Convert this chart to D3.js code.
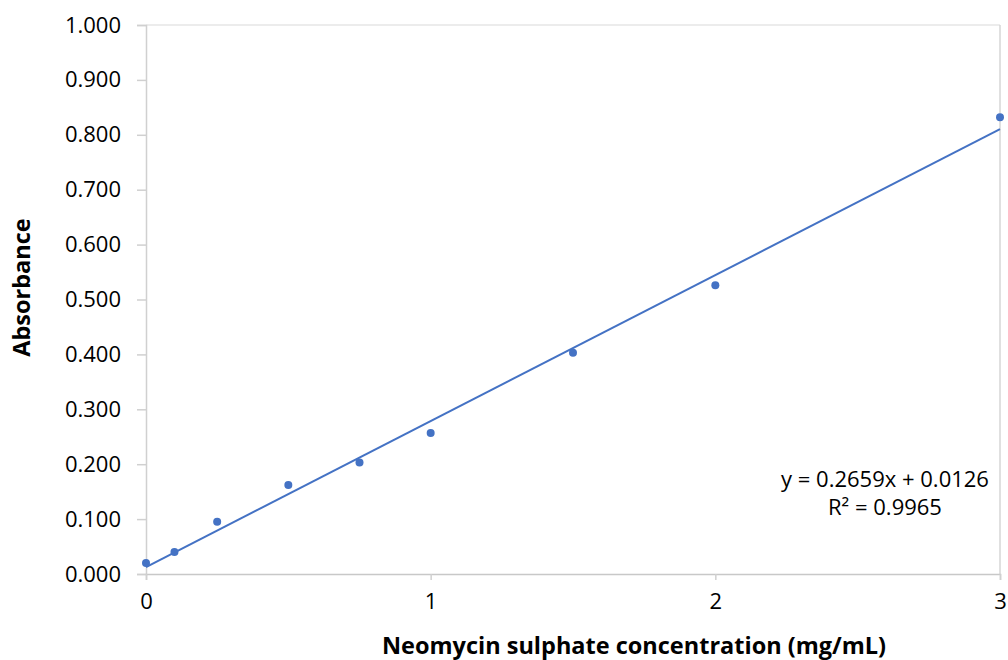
<!DOCTYPE html>
<html>
<head>
<meta charset="utf-8">
<script src="https://cdn.jsdelivr.net/npm/d3@7"></script>
<style>
  body { margin: 0; background: #fff; }
  text { font-family: "Open Sans", "Noto Sans", sans-serif; fill: #000; }
</style>
</head>
<body>
<div id="chart"></div>
<script>
const width = 1008;
const height = 660;
const margin = { left: 146, top: 25, right: 8, bottom: 86 };
const chartWidth = width - margin.left - margin.right;
const chartHeight = height - margin.top - margin.bottom;
const color = "#4472c4";

// data
const concentration = [0, 0.1, 0.25, 0.5, 0.75, 1, 1.5, 2, 3];
const absorbance = [0.020, 0.040, 0.095, 0.162, 0.203, 0.257, 0.403, 0.526, 0.832];
const xTicks = [0, 1, 2, 3];
const yTicks = [0, 0.1, 0.2, 0.3, 0.4, 0.5, 0.6, 0.7, 0.8, 0.9, 1.0];
const slope = 0.2659;
const intercept = 0.0126;
const equationLines = ["y = 0.2659x + 0.0126", "R² = 0.9965"];

let svg;
let xScale;
let yScale;

function createChart() {
  svg = d3
    .select("#chart")
    .append("svg")
    .attr("width", width)
    .attr("height", height)
    .append("g")
    .attr("transform", "translate(" + margin.left + "," + margin.top + ")");

  xScale = d3.scaleLinear().domain([0, 3]).range([0, chartWidth]);
  yScale = d3.scaleLinear().domain([0, 1]).range([chartHeight, 0]);

  createFrame();
  createAxes();
  createTrendline();
  createDots();
  createLabels();
}

function createFrame() {
  svg
    .append("line")
    .attr("x1", 0)
    .attr("x2", chartWidth)
    .attr("y1", 0)
    .attr("y2", 0)
    .attr("stroke", "#e6e6e6")
    .attr("stroke-width", 1.5);
  svg
    .append("line")
    .attr("x1", chartWidth)
    .attr("x2", chartWidth)
    .attr("y1", 0)
    .attr("y2", chartHeight)
    .attr("stroke", "#d6d6d6")
    .attr("stroke-width", 1.5);
}

function createAxes() {
  const yAxis = svg
    .append("g")
    .call(
      d3
        .axisLeft(yScale)
        .tickValues(yTicks)
        .tickSize(9)
        .tickPadding(16)
        .tickFormat(d3.format(".3f"))
    );
  yAxis.select(".domain").attr("stroke", "#d0d0d0").attr("stroke-width", 1.5);
  yAxis.selectAll(".tick line").attr("stroke", "#d0d0d0").attr("stroke-width", 1.5);
  yAxis.selectAll("text").style("font-size", "22px").attr("fill", "#000");

  const xAxis = svg
    .append("g")
    .attr("transform", "translate(0," + chartHeight + ")")
    .call(
      d3
        .axisBottom(xScale)
        .tickValues(xTicks)
        .tickSize(6)
        .tickPadding(13)
        .tickFormat(d3.format("d"))
    );
  xAxis.select(".domain").attr("stroke", "#c8c8c8").attr("stroke-width", 1.5);
  xAxis.selectAll(".tick line").attr("stroke", "#d0d0d0").attr("stroke-width", 1.5);
  xAxis.selectAll("text").style("font-size", "22px").attr("fill", "#000");
}

function createTrendline() {
  const ends = d3.extent(concentration);
  svg
    .append("path")
    .datum(ends)
    .attr("fill", "none")
    .attr("stroke", color)
    .attr("stroke-width", 2)
    .attr(
      "d",
      d3
        .line()
        .x((d) => xScale(d))
        .y((d) => yScale(slope * d + intercept))
    );
}

function createDots() {
  svg
    .selectAll(".dot")
    .data(concentration)
    .enter()
    .append("circle")
    .classed("dot", true)
    .attr("cx", (d) => xScale(d))
    .attr("cy", (d, i) => yScale(absorbance[i]))
    .attr("r", 4)
    .attr("fill", color);
}

function createLabels() {
  svg
    .append("text")
    .attr("x", 488)
    .attr("y", chartHeight + 80)
    .attr("text-anchor", "middle")
    .style("font-size", "23.5px")
    .style("font-weight", "bold")
    .text("Neomycin sulphate concentration (mg/mL)");

  svg
    .append("text")
    .attr("transform", "translate(-116," + (chartHeight / 2 - 12) + ") rotate(-90)")
    .attr("text-anchor", "middle")
    .style("font-size", "23.5px")
    .style("font-weight", "bold")
    .text("Absorbance");

  svg
    .selectAll(".eq")
    .data(equationLines)
    .enter()
    .append("text")
    .classed("eq", true)
    .attr("x", 739)
    .attr("y", (d, i) => 462 + i * 28)
    .attr("text-anchor", "middle")
    .style("font-size", "22px")
    .text((d) => d);
}

createChart();
</script>
</body>
</html>
